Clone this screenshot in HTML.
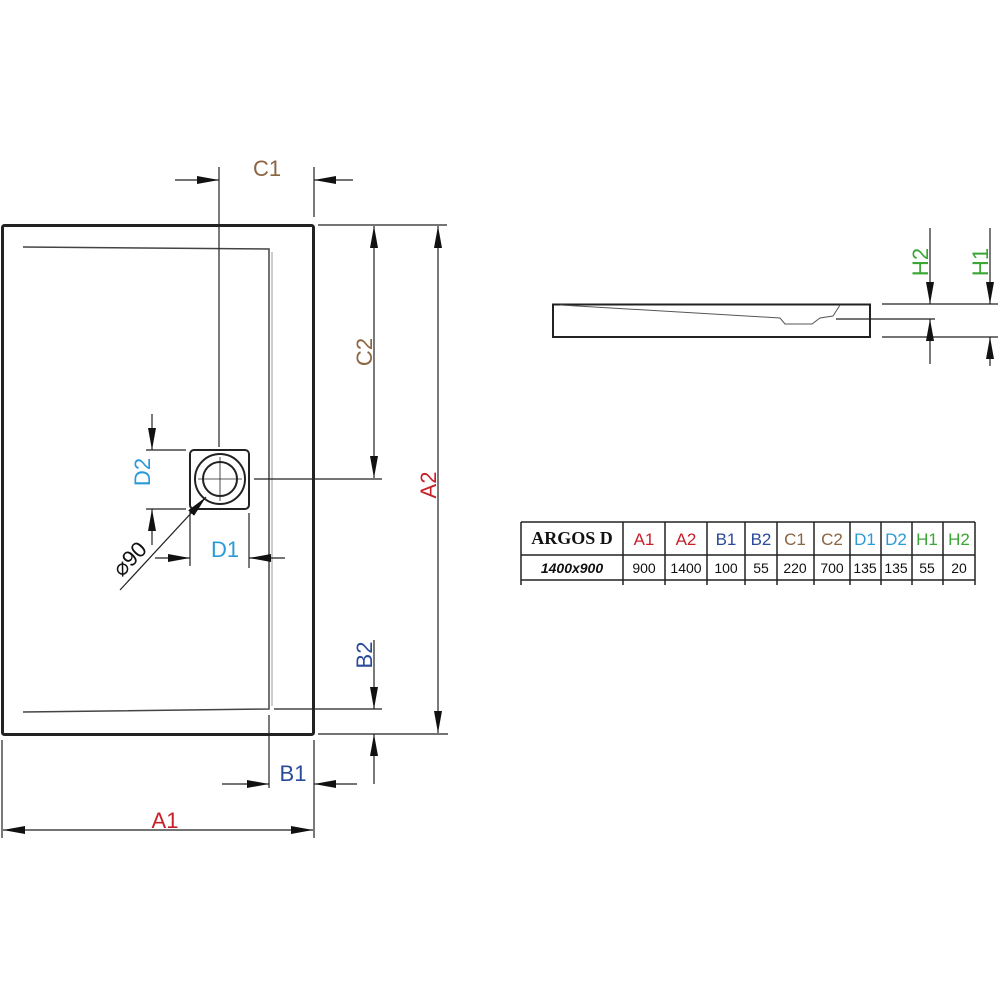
<!DOCTYPE html>
<html><head><meta charset="utf-8"><style>
html,body{margin:0;padding:0;background:#fff}
svg{display:block}
text{font-family:"Liberation Sans",sans-serif}
</style></head><body>
<svg width="998" height="998" viewBox="0 0 998 998" xmlns="http://www.w3.org/2000/svg">
<defs>
<marker id="a" viewBox="0 0 22 8" refX="22" refY="4" markerWidth="22" markerHeight="8" markerUnits="userSpaceOnUse" orient="auto"><path d="M0,0 L22,4 L0,8 Z" fill="#111"/></marker>
</defs>
<g stroke="#222" fill="none">
<rect x="2.5" y="225.5" width="311" height="509" rx="2" stroke-width="3"/>
<path d="M23,247 L269,249 L269,709 L23,712" stroke-width="1.5" stroke="#444"/>
<path d="M272,252 L272,706" stroke="#999" stroke-width="1"/>
<rect x="190" y="450" width="59" height="59" rx="4" stroke-width="2"/>
<circle cx="220" cy="479" r="25" stroke-width="2"/>
<circle cx="220" cy="479" r="17" stroke-width="2"/>
<path d="M198,479 H242 M220,457 V501" stroke-width="0.8"/>
<g stroke-width="1.2">
<path d="M219,167 V447 M314,167 V217"/>
<path d="M175,180 H219" marker-end="url(#a)"/>
<path d="M353,180 H314" marker-end="url(#a)"/>
<path d="M318,225 H447 M254,479 H382 M318,734 H448"/>
<path d="M374,350 V226" marker-end="url(#a)"/>
<path d="M374,350 V478" marker-end="url(#a)"/>
<path d="M438,480 V226" marker-end="url(#a)"/>
<path d="M438,480 V733" marker-end="url(#a)"/>
<path d="M146,450 H186 M146,509 H186"/>
<path d="M152,414 V450" marker-end="url(#a)"/>
<path d="M152,545 V509" marker-end="url(#a)"/>
<path d="M190,512 V566 M249,513 V568"/>
<path d="M155,558 H190" marker-end="url(#a)"/>
<path d="M285,558 H249" marker-end="url(#a)"/>
<path d="M120,590 L206,497" marker-end="url(#a)"/>
<path d="M274,709 H382"/>
<path d="M374,640 V709" marker-end="url(#a)"/>
<path d="M374,784 V734" marker-end="url(#a)"/>
<path d="M269,715 V788 M314,740 V838 M2,740 V838"/>
<path d="M222,784 H269" marker-end="url(#a)"/>
<path d="M357,784 H314" marker-end="url(#a)"/>
<path d="M160,830 H3" marker-end="url(#a)"/>
<path d="M160,830 H313" marker-end="url(#a)"/>
</g>
<rect x="553" y="304.5" width="317" height="32.5" stroke-width="2"/>
<path d="M560,305 L780,318 L785,324 L812,324 L820,318 L833,316 L840,305" stroke-width="1" stroke="#555"/>
<g stroke-width="1.2">
<path d="M882,304 H998 M836,319 H935 M882,337 H998"/>
<path d="M930,228 V304" marker-end="url(#a)"/>
<path d="M930,364 V319" marker-end="url(#a)"/>
<path d="M990,228 V304" marker-end="url(#a)"/>
<path d="M990,366 V337" marker-end="url(#a)"/>
</g>
<g stroke-width="1.5">
<path d="M521,522 H975 M521,555 H975 M521,580 H975"/>
<path d="M521,522 V585 M623,522 V585 M665,522 V585 M707,522 V585 M745,522 V585 M777,522 V585 M814,522 V585 M850,522 V585 M881,522 V585 M912,522 V585 M943,522 V585 M975,522 V585"/>
</g>
</g>
<g font-size="22">
<text x="267" y="176" fill="#8b6440" text-anchor="middle">C1</text>
<text transform="translate(372,352) rotate(-90)" fill="#8b6440" text-anchor="middle">C2</text>
<text transform="translate(436,485) rotate(-90)" fill="#c8202a" text-anchor="middle">A2</text>
<text transform="translate(150,472) rotate(-90)" fill="#2a9ad8" text-anchor="middle">D2</text>
<text x="225" y="557" fill="#2a9ad8" text-anchor="middle">D1</text>
<text transform="translate(135,564) rotate(-46)" fill="#111" text-anchor="middle">⌀90</text>
<text transform="translate(372,655) rotate(-90)" fill="#2a4a9a" text-anchor="middle">B2</text>
<text x="293" y="781" fill="#2a4a9a" text-anchor="middle">B1</text>
<text x="165" y="828" fill="#c8202a" text-anchor="middle">A1</text>
<text transform="translate(928,262) rotate(-90)" fill="#3aa635" text-anchor="middle">H2</text>
<text transform="translate(988,262) rotate(-90)" fill="#3aa635" text-anchor="middle">H1</text>
</g>
<g font-size="17" text-anchor="middle">
<text x="572" y="544" font-weight="bold" font-size="18" fill="#111" style="font-family:'Liberation Serif',serif">ARGOS D</text>
<text x="644" y="545" fill="#c8202a">A1</text>
<text x="686" y="545" fill="#c8202a">A2</text>
<text x="726" y="545" fill="#2a4a9a">B1</text>
<text x="761" y="545" fill="#2a4a9a">B2</text>
<text x="795" y="545" fill="#8b6440">C1</text>
<text x="832" y="545" fill="#8b6440">C2</text>
<text x="865" y="545" fill="#2a9ad8">D1</text>
<text x="896" y="545" fill="#2a9ad8">D2</text>
<text x="927" y="545" fill="#3aa635">H1</text>
<text x="959" y="545" fill="#3aa635">H2</text>
</g>
<g font-size="14" text-anchor="middle" fill="#111">
<text x="572" y="573" font-style="italic" font-weight="bold">1400x900</text>
<text x="644" y="573">900</text>
<text x="686" y="573">1400</text>
<text x="726" y="573">100</text>
<text x="761" y="573">55</text>
<text x="795" y="573">220</text>
<text x="832" y="573">700</text>
<text x="865" y="573">135</text>
<text x="896" y="573">135</text>
<text x="927" y="573">55</text>
<text x="959" y="573">20</text>
</g>
</svg>
</body></html>
